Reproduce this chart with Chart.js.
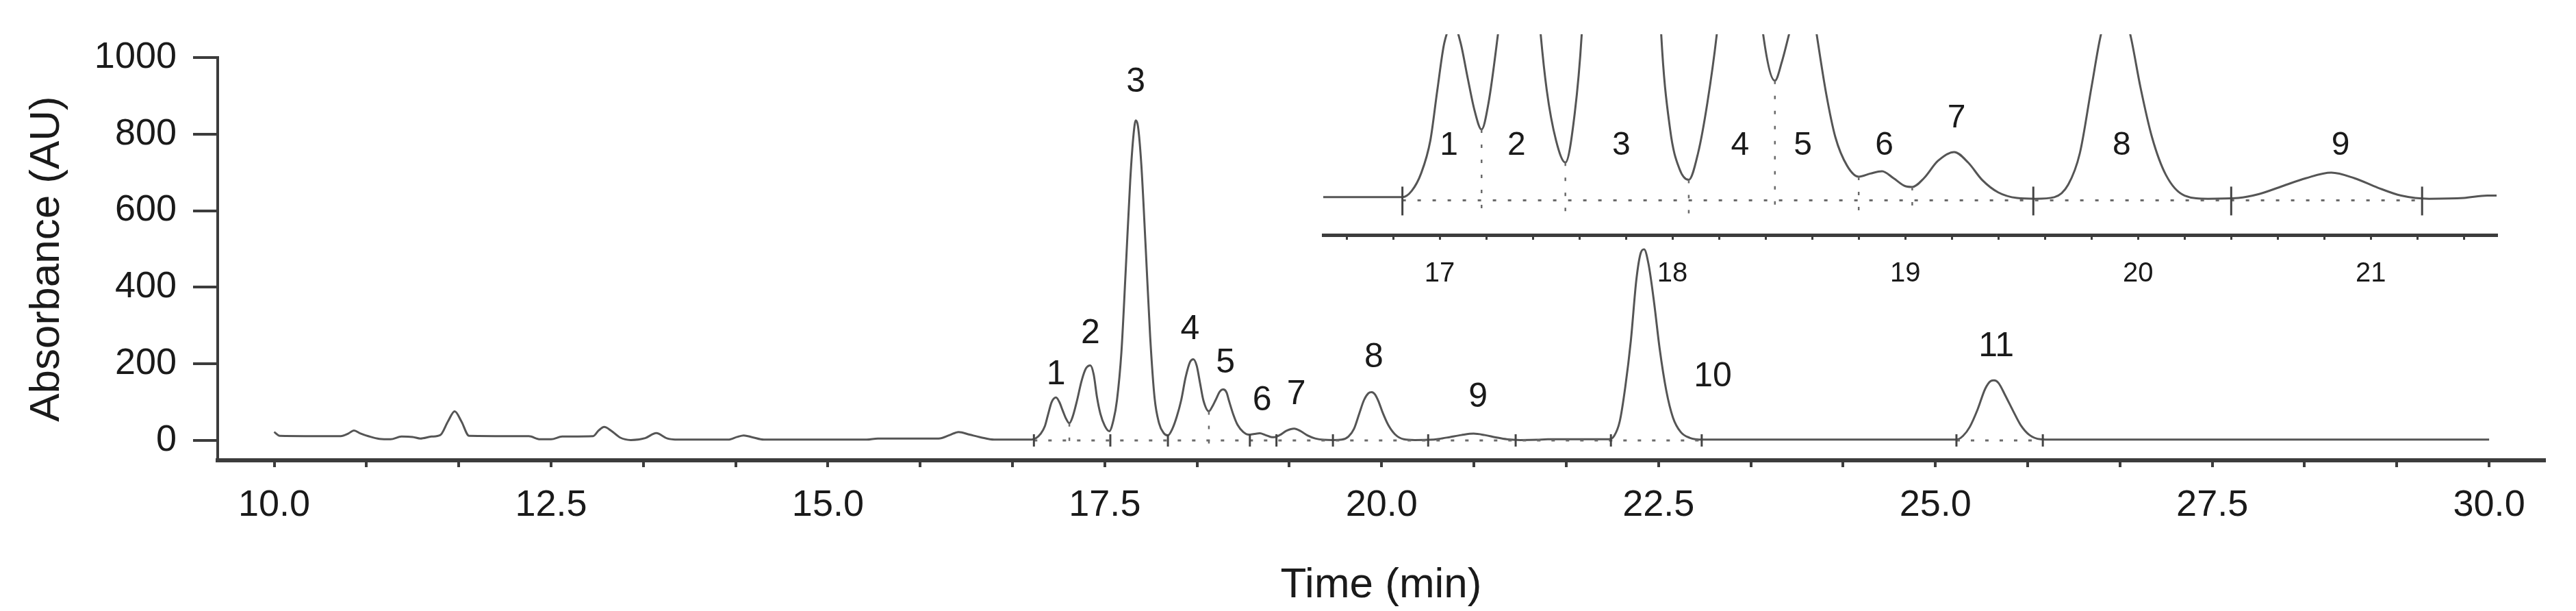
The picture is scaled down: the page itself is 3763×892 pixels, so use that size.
<!DOCTYPE html>
<html>
<head>
<meta charset="utf-8">
<script src="https://cdn.jsdelivr.net/npm/chart.js@4.4.0/dist/chart.umd.min.js"></script>
<style>
  body { margin: 0; background: #fff; }
  #wrap { position: relative; width: 3763px; height: 892px; }
  #main { position: absolute; left: 0; top: 0; }
  #inset { position: absolute; left: 1900px; top: 0; }
</style>
</head>
<body>
<div id="wrap">
  <canvas id="main" width="3763" height="892"></canvas>
  <canvas id="inset" width="1800" height="440"></canvas>
</div>
<script>
// chromatogram trace: time (min) and absorbance (AU)
const retentionTimes = [
  10.00, 10.05, 10.60, 10.67, 10.72, 10.78, 10.85, 10.95, 11.05, 11.15, 11.25, 11.32, 11.42, 11.50,
  11.57, 11.63, 11.69, 11.76, 12.30, 12.40, 12.50, 12.60, 12.88, 12.93, 12.98, 13.04, 13.12, 13.22,
  13.35, 13.45, 13.55, 13.65, 14.10, 14.18, 14.24, 14.32, 14.42, 15.35, 15.45, 16.00, 16.10, 16.18,
  16.28, 16.38, 16.50, 16.84, 16.88, 16.92, 16.96, 16.99, 17.02, 17.06, 17.09, 17.12, 17.15, 17.18,
  17.21, 17.25, 17.29, 17.33, 17.37, 17.40, 17.43, 17.46, 17.50, 17.54, 17.58, 17.61, 17.65, 17.69,
  17.73, 17.76, 17.78, 17.80, 17.83, 17.87, 17.91, 17.95, 17.99, 18.03, 18.07, 18.11, 18.15, 18.19,
  18.23, 18.27, 18.30, 18.33, 18.36, 18.39, 18.44, 18.47, 18.50, 18.54, 18.57, 18.60, 18.62, 18.66,
  18.70, 18.75, 18.80, 18.85, 18.90, 18.95, 19.00, 19.03, 19.08, 19.14, 19.21, 19.27, 19.33, 19.40,
  19.48, 19.56, 19.64, 19.70, 19.75, 19.80, 19.84, 19.88, 19.91, 19.94, 19.97, 20.01, 20.06, 20.12,
  20.20, 20.30, 20.43, 20.52, 20.62, 20.72, 20.83, 20.93, 21.03, 21.13, 21.25, 21.40, 21.50, 21.60,
  22.05, 22.10, 22.15, 22.20, 22.25, 22.30, 22.34, 22.37, 22.41, 22.46, 22.51, 22.57, 22.63, 22.70,
  22.78, 22.90, 25.19, 25.25, 25.31, 25.38, 25.45, 25.50, 25.53, 25.57, 25.63, 25.70, 25.77, 25.85,
  25.95, 26.05, 30.00
];
const absorbance = [
  22, 12, 11, 18, 26, 18, 11, 4, 3, 10, 9, 5, 10, 14,
  50, 76, 50, 12, 11, 3, 3, 10, 11, 26, 35, 26, 8, 1,
  6, 19, 5, 2, 2, 9, 13, 8, 2, 2, 5, 5, 14, 22,
  15, 8, 2, 2, 6, 17, 38, 70, 100, 112, 100, 78, 57, 45,
  62, 105, 155, 188, 196, 172, 112, 70, 38, 24, 55, 105, 230, 450,
  680, 800, 836, 820, 720, 500, 270, 110, 45, 20, 13, 30, 62, 105,
  165, 205, 212, 195, 150, 105, 76, 88, 105, 128, 133, 125, 105, 68,
  40, 22, 15, 17, 18.5, 14, 9, 8.5, 14, 25, 30.7, 24, 13, 5,
  1.5, 1, 2, 10, 30, 72, 105, 123, 126, 120, 103, 72, 40, 16,
  3, 1, 1.5, 4, 9, 14, 17.6, 14, 8, 3, 1, 1.5, 3, 3,
  3, 12, 50, 140, 260, 420, 490, 499, 460, 360, 240, 130, 60, 22,
  7, 2, 2, 12, 35, 80, 135, 155, 157, 150, 118, 78, 40, 14,
  3, 2, 2
];

// axis ticks
const mainTickValues = [10, 12.5, 15, 17.5, 20, 22.5, 25, 27.5, 30];
const mainTickLabels = ['10.0', '12.5', '15.0', '17.5', '20.0', '22.5', '25.0', '27.5', '30.0'];
const yTickValues = [0, 200, 400, 600, 800, 1000];
const yTickLabels = ['0', '200', '400', '600', '800', '1000'];
const insetTickValues = [17, 18, 19, 20, 21];
const insetTickLabels = ['17', '18', '19', '20', '21'];

// integration marks (baseline segments, cut ticks, dotted drop lines)
const mainBaselines = [[16.86, 22.89], [25.19, 25.97]];
const mainCuts = [16.86, 17.55, 18.07, 18.81, 19.05, 19.56, 20.42, 21.21, 22.07, 22.89, 25.19, 25.97];
const mainDrops = [17.18, 18.44];
const insetBaselines = [[16.84, 21.22]];
const insetCuts = [16.84, 19.55, 20.40, 21.22];
const insetDrops = [17.18, 17.54, 18.07, 18.44, 18.80, 19.03];

// peak numbers, anchored in data units
const mainPeakNames = ['1', '2', '3', '4', '5', '6', '7', '8', '9', '10', '11'];
const mainPeakX = [17.06, 17.37, 17.78, 18.27, 18.59, 18.92, 19.23, 19.93, 20.87, 22.99, 25.55];
const mainPeakY = [172, 279, 936, 290, 202, 104, 120, 216, 113, 166, 245];
const insetPeakNames = ['1', '2', '3', '4', '5', '6', '7', '8', '9'];
const insetPeakX = [17.04, 17.33, 17.78, 18.29, 18.56, 18.91, 19.22, 19.93, 20.87];
const insetPeakY = [34.6, 34.6, 34.6, 34.6, 34.6, 34.6, 52, 34.6, 34.6];

const FONT = 'Liberation Sans, Arial, Helvetica, sans-serif';
const INK = '#1a1a1a';
const AXIS = '#3c3c3c';
Chart.defaults.font.family = FONT;
Chart.defaults.color = INK;

function tracePoints() {
    return retentionTimes.map((t, i) => ({ x: t, y: absorbance[i] }));
}

function nearestIndex(t) {
    let best = 0;
    retentionTimes.forEach((v, i) => {
        if (Math.abs(v - t) < Math.abs(retentionTimes[best] - t)) best = i;
    });
    return best;
}

function labelFor(values, labels) {
    return v => {
        const i = values.findIndex(m => Math.abs(m - v) < 1e-6);
        return i >= 0 ? labels[i] : '';
    };
}

const chromMarks = {
    id: 'chromMarks',
    afterDatasetsDraw(chart, args, o) {
        const { ctx, scales: { x, y } } = chart;
        const y0 = y.getPixelForValue(0);
        ctx.save();
        ctx.strokeStyle = '#6a6a6a';
        ctx.lineWidth = 3;
        ctx.setLineDash(o.dash);
        o.baselines.forEach(([a, b]) => {
            ctx.beginPath();
            ctx.moveTo(x.getPixelForValue(a), y0);
            ctx.lineTo(x.getPixelForValue(b), y0);
            ctx.stroke();
        });
        ctx.lineWidth = 2.5;
        o.drops.forEach(t => {
            const i = nearestIndex(t);
            const px = x.getPixelForValue(retentionTimes[i]);
            ctx.beginPath();
            ctx.moveTo(px, y.getPixelForValue(absorbance[i]));
            ctx.lineTo(px, y0 + o.dropBelow);
            ctx.stroke();
        });
        ctx.setLineDash([]);
        ctx.strokeStyle = '#444';
        ctx.lineWidth = 3;
        o.cuts.forEach(t => {
            const px = x.getPixelForValue(t);
            ctx.beginPath();
            ctx.moveTo(px, y0 - o.cutUp);
            ctx.lineTo(px, y0 + o.cutDown);
            ctx.stroke();
        });
        ctx.fillStyle = INK;
        ctx.font = o.font;
        ctx.textAlign = 'center';
        ctx.textBaseline = 'middle';
        o.names.forEach((txt, i) => {
            ctx.fillText(txt, x.getPixelForValue(o.nameX[i]), y.getPixelForValue(o.nameY[i]));
        });
        ctx.restore();
    }
};

function traceDataset() {
    return {
        data: tracePoints(),
        borderColor: '#555',
        borderWidth: 3,
        pointRadius: 0,
        fill: false,
        cubicInterpolationMode: 'monotone',
        clip: 0
    };
}

// main chromatogram
new Chart(document.getElementById('main'), {
    type: 'line',
    data: { datasets: [traceDataset()] },
    plugins: [chromMarks],
    options: {
        responsive: false,
        animation: false,
        devicePixelRatio: 1,
        layout: { padding: { left: 0, right: 46, top: 84, bottom: 0 } },
        plugins: {
            legend: { display: false },
            tooltip: { enabled: false },
            chromMarks: {
                baselines: mainBaselines, cuts: mainCuts, drops: mainDrops,
                dash: [5, 16], dropBelow: 13, cutUp: 9, cutDown: 9,
                names: mainPeakNames, nameX: mainPeakX, nameY: mainPeakY,
                font: '50px ' + FONT
            }
        },
        scales: {
            x: {
                type: 'linear',
                min: 9.49,
                max: 30.5,
                afterFit: s => { s.height = 220; },
                afterBuildTicks: s => {
                    const ticks = [];
                    for (let i = 0; i < mainTickValues.length; i++) {
                        ticks.push({ value: mainTickValues[i] });
                        if (i < mainTickValues.length - 1) {
                            const step = (mainTickValues[i + 1] - mainTickValues[i]) / 3;
                            ticks.push({ value: mainTickValues[i] + step });
                            ticks.push({ value: mainTickValues[i] + 2 * step });
                        }
                    }
                    s.ticks = ticks;
                },
                ticks: {
                    autoSkip: false, maxRotation: 0, padding: 24,
                    font: { size: 54 }, color: INK,
                    callback: labelFor(mainTickValues, mainTickLabels)
                },
                grid: { drawOnChartArea: false, drawTicks: true, tickLength: 10, color: AXIS, lineWidth: 4 },
                border: { display: true, color: AXIS, width: 6 },
                title: { display: true, text: 'Time (min)', color: INK, font: { size: 62 }, padding: { top: 0, bottom: 0 } }
            },
            y: {
                min: -52,
                max: 1000,
                afterFit: s => { s.width = 318; },
                afterBuildTicks: s => { s.ticks = yTickValues.map(v => ({ value: v })); },
                ticks: {
                    padding: 24, font: { size: 54 }, color: INK,
                    callback: labelFor(yTickValues, yTickLabels)
                },
                grid: { drawOnChartArea: false, drawTicks: true, tickLength: 36, color: AXIS, lineWidth: 4 },
                border: { display: true, color: AXIS, width: 4 },
                title: { display: true, text: 'Absorbance (AU)', color: INK, font: { size: 62 }, padding: { top: 32, bottom: 0 } }
            }
        }
    }
});

// zoomed inset of the 16.5 - 21.5 min window
new Chart(document.getElementById('inset'), {
    type: 'line',
    data: { datasets: [traceDataset()] },
    plugins: [chromMarks],
    options: {
        responsive: false,
        animation: false,
        devicePixelRatio: 1,
        layout: { padding: { left: 33, right: 53, top: 50, bottom: 0 } },
        plugins: {
            legend: { display: false },
            tooltip: { enabled: false },
            chromMarks: {
                baselines: insetBaselines, cuts: insetCuts, drops: insetDrops,
                dash: [5, 17], dropBelow: 20, cutUp: 20, cutDown: 22,
                names: insetPeakNames, nameX: insetPeakX, nameY: insetPeakY,
                font: '48px ' + FONT
            }
        },
        scales: {
            x: {
                type: 'linear',
                min: 16.5,
                max: 21.54,
                afterFit: s => { s.height = 97; },
                afterBuildTicks: s => {
                    const ticks = [];
                    for (let k = 0; k <= 24; k++) ticks.push({ value: Math.round((16.6 + k * 0.2) * 10) / 10 });
                    s.ticks = ticks;
                },
                ticks: {
                    autoSkip: false, maxRotation: 0, padding: 26,
                    font: { size: 40 }, color: INK,
                    callback: labelFor(insetTickValues, insetTickLabels)
                },
                grid: { drawOnChartArea: false, drawTicks: true, tickLength: 7, color: AXIS, lineWidth: 3 },
                border: { display: true, color: AXIS, width: 5 }
            },
            y: {
                display: false,
                min: -22,
                max: 105.5
            }
        }
    }
});
</script>
</body>
</html>
